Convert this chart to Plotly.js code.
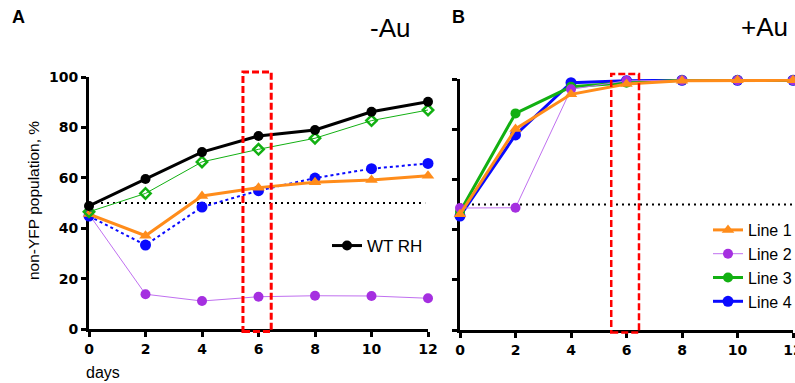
<!DOCTYPE html>
<html>
<head>
<meta charset="utf-8">
<script src="https://cdn.plot.ly/plotly-3.0.1.min.js"></script>
<style>html,body{margin:0;padding:0;background:#fff;}#chart{width:795px;height:383px;}</style>
</head>
<body>
<div id="chart"></div>
<script>
// ---- data ----
const days = [0, 2, 4, 6, 8, 10, 12];
const xTicks = [0, 2, 4, 6, 8, 10, 12];
const yTicks = [0, 20, 40, 60, 80, 100];
// panel A (-Au)
const wtRH_noAu   = [48.8, 59.5, 70.2, 76.6, 79.0, 86.2, 90.2];
const line1_noAu  = [45.6, 37.0, 52.8, 56.1, 58.2, 59.1, 60.8];
const line2_noAu  = [45.5, 13.8, 11.1, 12.8, 13.2, 13.1, 12.2];
const line3_noAu  = [46.5, 53.8, 66.3, 71.3, 75.7, 82.7, 86.9];
const line4_noAu  = [44.8, 33.3, 48.4, 54.9, 59.9, 63.6, 65.7];
// panel B (+Au)
const line1_Au = [46.1, 80.1, 93.9, 98.0, 99.3, 99.5, 99.5];
const line2_Au = [48.6, 48.7, 95.9, 99.3, 99.5, 99.5, 99.5];
const line3_Au = [47.1, 86.3, 96.9, 98.5, 99.5, 99.5, 99.5];
const line4_Au = [45.4, 77.7, 98.5, 99.3, 99.5, 99.5, 99.5];
// reference level and highlighted day window
const refLevel = 50;
const highlightDays = [5.45, 6.45];
const highlightYDomain = [-0.01, 1.02];

// ---- styles ----
const C = {black:'#000000', orange:'#ff8c1a', purple:'#a52fe0', purpleLine:'#c070f0', green:'#12b012', blue:'#0a0aff', red:'#ff0000'};
const W = 795, H = 383;
const px = v => v / W, py = v => 1 - v / H;

const traces = [
  // panel A
  {x: days, y: line2_noAu, xaxis:'x', yaxis:'y', mode:'lines+markers', showlegend:false, cliponaxis:false,
   line:{color:C.purpleLine, width:1}, marker:{color:C.purple, size:10, symbol:'circle'}},
  {x: days, y: line4_noAu, xaxis:'x', yaxis:'y', mode:'lines+markers', showlegend:false, cliponaxis:false,
   line:{color:C.blue, width:2, dash:'3px,3px'}, marker:{color:C.blue, size:11, symbol:'circle'}},
  {x: days, y: line1_noAu, xaxis:'x', yaxis:'y', mode:'lines+markers', showlegend:false, cliponaxis:false,
   line:{color:C.orange, width:3}, marker:{color:C.orange, size:11, symbol:'triangle-up'}},
  {x: days, y: line3_noAu, xaxis:'x', yaxis:'y', mode:'lines+markers', showlegend:false, cliponaxis:false,
   line:{color:C.green, width:1}, marker:{color:C.green, size:8, symbol:'diamond-open', line:{width:2.5, color:C.green}}},
  {x: days, y: wtRH_noAu, name:'WT RH', xaxis:'x', yaxis:'y', mode:'lines+markers', legend:'legend', cliponaxis:false,
   line:{color:C.black, width:3}, marker:{color:C.black, size:10, symbol:'circle'}},
  // panel B
  {x: days, y: line4_Au, name:'Line 4', legend:'legend2', legendrank:4, legendgroup:'g4', xaxis:'x2', yaxis:'y2', mode:'lines+markers', cliponaxis:false,
   line:{color:C.blue, width:3}, marker:{color:C.blue, size:11, symbol:'circle'}},
  {x: days, y: line3_Au, name:'Line 3', legend:'legend2', legendrank:3, legendgroup:'g3', xaxis:'x2', yaxis:'y2', mode:'lines+markers', cliponaxis:false,
   line:{color:C.green, width:3}, marker:{color:C.green, size:10, symbol:'circle'}},
  {x: days, y: line2_Au, name:'Line 2', legend:'legend2', legendrank:2, legendgroup:'g2', xaxis:'x2', yaxis:'y2', mode:'lines+markers', cliponaxis:false,
   line:{color:C.purpleLine, width:1}, marker:{color:C.purple, size:10, symbol:'circle'}},
  {x: days, y: line1_Au, name:'Line 1', legend:'legend2', legendrank:1, legendgroup:'g1', xaxis:'x2', yaxis:'y2', mode:'lines+markers', cliponaxis:false,
   line:{color:C.orange, width:3}, marker:{color:C.orange, size:11, symbol:'triangle-up'}}
];

const tickFont = {family:'DejaVu Sans, Liberation Sans, Arial, sans-serif', size:14, weight:'bold', color:'#000'};
const axisBase = {showgrid:false, zeroline:false, showline:true, linecolor:'#000', linewidth:3,
  ticks:'outside', ticklen:5, tickwidth:3, tickcolor:'#000', tickfont:tickFont, fixedrange:true, layer:'below traces'};

const layout = {
  width: W, height: H,
  margin:{l:0, r:0, t:0, b:0, autoexpand:false},
  paper_bgcolor:'#fff', plot_bgcolor:'rgba(0,0,0,0)',
  font:{family:'Liberation Sans, Arial, sans-serif', color:'#000'},
  xaxis: Object.assign({}, axisBase, {domain:[px(89), px(428)], range:[0,12], tickvals:xTicks, anchor:'y'}),
  yaxis: Object.assign({}, axisBase, {domain:[1-329/H, 1-77/H], range:[0,100], tickvals:yTicks, anchor:'x'}),
  xaxis2: Object.assign({}, axisBase, {domain:[px(460), px(793)], range:[0,12], tickvals:xTicks, anchor:'y2', ticklabeloverflow:'allow'}),
  yaxis2: Object.assign({}, axisBase, {domain:[1-330/H, 1-79/H], range:[0,100], tickvals:yTicks, showticklabels:false, anchor:'x2'}),
  legend: {x:px(327), y:py(246), xanchor:'left', yanchor:'middle', bgcolor:'rgba(0,0,0,0)', borderwidth:0,
    font:{size:17, family:'Liberation Sans, Arial, sans-serif'}},
  legend2: {x:px(708), y:py(266), xanchor:'left', yanchor:'middle', bgcolor:'rgba(0,0,0,0)', borderwidth:0,
    traceorder:'grouped', tracegroupgap:0, font:{size:16, family:'Liberation Sans Narrow, Arial Narrow, Liberation Sans, sans-serif'}},
  shapes: [
    {type:'line', xref:'x', yref:'y', x0:0, x1:11.9, y0:refLevel, y1:refLevel, line:{color:'#000', width:2, dash:'2px,4px'}, layer:'below'},
    {type:'line', xref:'x2', yref:'y2', x0:0, x1:12.2, y0:refLevel, y1:refLevel, line:{color:'#000', width:2, dash:'2px,4px'}, layer:'below'},
    {type:'rect', xref:'x', yref:'y domain', x0:highlightDays[0], x1:highlightDays[1], y0:highlightYDomain[0], y1:highlightYDomain[1], line:{color:C.red, width:3, dash:'7px,3px'}, layer:'above'},
    {type:'rect', xref:'x2', yref:'y2 domain', x0:highlightDays[0], x1:highlightDays[1], y0:highlightYDomain[0], y1:highlightYDomain[1], line:{color:C.red, width:2.5, dash:'7px,3px'}, layer:'above'}
  ],
  annotations: [
    {text:'<b>A</b>', xref:'paper', yref:'paper', x:px(10), y:py(16.5), xanchor:'left', yanchor:'middle', showarrow:false, font:{size:18}},
    {text:'<b>B</b>', xref:'paper', yref:'paper', x:px(450), y:py(16.5), xanchor:'left', yanchor:'middle', showarrow:false, font:{size:18}},
    {text:'-Au', xref:'paper', yref:'paper', x:px(390), y:py(28), xanchor:'center', yanchor:'middle', showarrow:false, font:{size:26}},
    {text:'+Au', xref:'paper', yref:'paper', x:px(764.5), y:py(27), xanchor:'center', yanchor:'middle', showarrow:false, font:{size:26}},
    {text:'non-YFP population, %', xref:'paper', yref:'paper', x:px(34), y:py(201), xanchor:'center', yanchor:'middle', textangle:-90, showarrow:false, font:{size:15.5}},
    {text:'days', xref:'paper', yref:'paper', x:px(84), y:py(372), xanchor:'left', yanchor:'middle', showarrow:false, font:{size:16}}
  ]
};

Plotly.newPlot('chart', traces, layout, {staticPlot:true, displayModeBar:false});
</script>
</body>
</html>
